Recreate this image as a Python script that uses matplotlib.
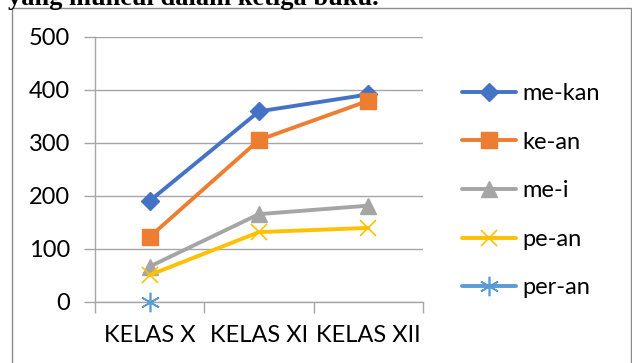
import matplotlib
matplotlib.use("Agg")
import matplotlib.pyplot as plt
from matplotlib.patches import Rectangle
import numpy as np

# Data
categories = ["KELAS X", "KELAS XI", "KELAS XII"]
me_kan = [190, 359, 391]
ke_an = [122, 305, 379]
me_i = [66, 165, 181]
pe_an = [50, 131, 139]
per_an = [0, np.nan, np.nan]
y_ticks = [0, 100, 200, 300, 400, 500]

series = [
    ("me-kan", me_kan, "#4472C4", "D", 9, None),
    ("ke-an", ke_an, "#ED7D31", "s", 12, None),
    ("me-i", me_i, "#A5A5A5", "^", 12, None),
    ("pe-an", pe_an, "#FFC000", "x", 12, 1.2),
    ("per-an", per_an, "#5B9BD5", (6, 2, 0), 14, 1.2),
]

W, H = 632, 363
fig = plt.figure(figsize=(W / 100, H / 100), dpi=100)
fig.patch.set_facecolor("white")

# Caption text above the chart (partly cut off at the top edge)
fig.text(8 / W, 1 - 5 / H, "yang muncul dalam ketiga buku.",
         family="Liberation Serif", fontweight="bold", fontsize=19,
         ha="left", va="baseline")

# Chart frame
fig.patches.append(Rectangle((12 / W, -0.2), (631 - 12) / W, 1.2 - 8 / H,
                             transform=fig.transFigure, fill=False,
                             edgecolor="#8c8c8c", linewidth=1.0))

left, right, top, bottom = 95, 423, 36.7, 301.5
ax = fig.add_axes([left / W, 1 - bottom / H, (right - left) / W, (bottom - top) / H])

x = np.arange(len(categories))
handles = []
for name, vals, color, marker, ms, mew in series:
    kw = dict(color=color, linewidth=2.8, marker=marker, markersize=ms,
              markerfacecolor=color, markeredgecolor=color, label=name,
              solid_capstyle="round", clip_on=False, zorder=3)
    if mew is not None:
        kw["markeredgewidth"] = mew
    (ln,) = ax.plot(x, vals, **kw)
    handles.append(ln)

ax.set_xlim(-0.5, 2.5)
ax.set_ylim(0, 500)
ax.set_yticks(y_ticks)
ax.set_yticklabels([str(v) for v in y_ticks])
ax.set_xticks(x)
ax.set_xticklabels(categories)
ax.set_xticks([-0.5, 0.5, 1.5, 2.5], minor=True)

grid_color = "#a6a6a6"
ax.yaxis.grid(True, color=grid_color, linewidth=1.0)
ax.set_axisbelow(True)
for s in ["top", "right"]:
    ax.spines[s].set_visible(False)
for s in ["left", "bottom"]:
    ax.spines[s].set_color(grid_color)
    ax.spines[s].set_linewidth(1.0)

ax.tick_params(axis="y", length=8, color=grid_color, width=1.0, pad=10,
               labelsize=17, labelcolor="black")
ax.tick_params(axis="x", which="major", length=0, pad=17,
               labelsize=17, labelcolor="black")
ax.tick_params(axis="x", which="minor", length=8, color=grid_color, width=1.0)
for lab in ax.get_xticklabels() + ax.get_yticklabels():
    lab.set_family("Lato")

leg = fig.legend(handles=handles, loc="upper left",
                 bbox_to_anchor=(462 / W, 1 - 83 / H),
                 frameon=False, prop={"family": "Lato", "size": 17},
                 handlelength=2.3, handletextpad=0.25, labelspacing=1.17,
                 borderaxespad=0, borderpad=0)

fig.savefig("out.png", dpi=100, facecolor="white")
